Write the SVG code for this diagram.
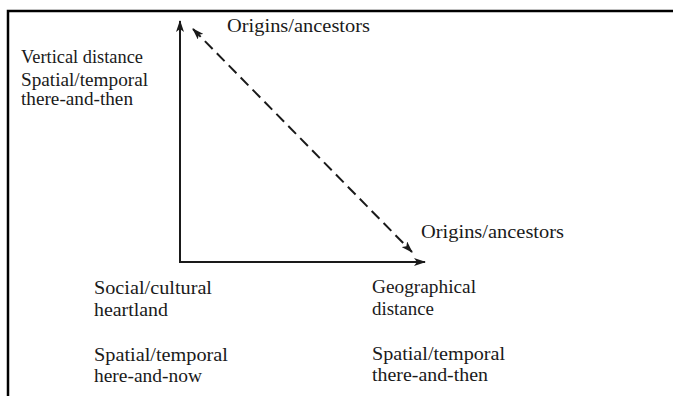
<svg xmlns="http://www.w3.org/2000/svg" width="673" height="396" viewBox="0 0 673 396">
<style>
text{font-family:"Liberation Serif","Times New Roman",serif;font-size:19px;fill:#1a1a1a}
.ax{stroke:#1a1a1a;stroke-width:2;fill:none}
.dash{stroke:#1a1a1a;stroke-width:2;fill:none;stroke-dasharray:11 6}
</style>
<defs>
<marker id="ah" viewBox="0 0 12 8" refX="11" refY="4" markerWidth="12" markerHeight="8" markerUnits="userSpaceOnUse" orient="auto-start-reverse">
<path d="M0,0 L12,4 L0,8 L3,4 Z" fill="#1a1a1a"/>
</marker>
</defs>
<rect x="0" y="0" width="673" height="396" fill="#ffffff"/>
<path d="M8,396 L8,11 L673,11" fill="none" stroke="#000" stroke-width="2.5"/>
<g id="connectors">
<path class="ax" d="M180,21 L180,262 L425,262" marker-start="url(#ah)" marker-end="url(#ah)"/>
<path class="dash" d="M193,29 L412,252" marker-start="url(#ah)" marker-end="url(#ah)"/>
</g>
<g id="origins-top"><text x="227" y="32" textLength="143" lengthAdjust="spacingAndGlyphs">Origins/ancestors</text></g>
<g id="origins-right"><text x="421" y="238" textLength="143" lengthAdjust="spacingAndGlyphs">Origins/ancestors</text></g>
<g id="vertical">
<text x="21" y="63" textLength="122" lengthAdjust="spacingAndGlyphs">Vertical distance</text>
<text x="21" y="86" textLength="127" lengthAdjust="spacingAndGlyphs">Spatial/temporal</text>
<text x="21" y="105" textLength="112" lengthAdjust="spacingAndGlyphs">there-and-then</text>
</g>
<g id="heartland">
<text x="94" y="294" textLength="118" lengthAdjust="spacingAndGlyphs">Social/cultural</text>
<text x="94" y="316" textLength="74" lengthAdjust="spacingAndGlyphs">heartland</text>
<text x="94" y="361" textLength="134" lengthAdjust="spacingAndGlyphs">Spatial/temporal</text>
<text x="94" y="382" textLength="108" lengthAdjust="spacingAndGlyphs">here-and-now</text>
</g>
<g id="geographical">
<text x="372" y="293" textLength="104" lengthAdjust="spacingAndGlyphs">Geographical</text>
<text x="372" y="315" textLength="62" lengthAdjust="spacingAndGlyphs">distance</text>
<text x="372" y="360" textLength="133" lengthAdjust="spacingAndGlyphs">Spatial/temporal</text>
<text x="372" y="381" textLength="116" lengthAdjust="spacingAndGlyphs">there-and-then</text>
</g>
</svg>
